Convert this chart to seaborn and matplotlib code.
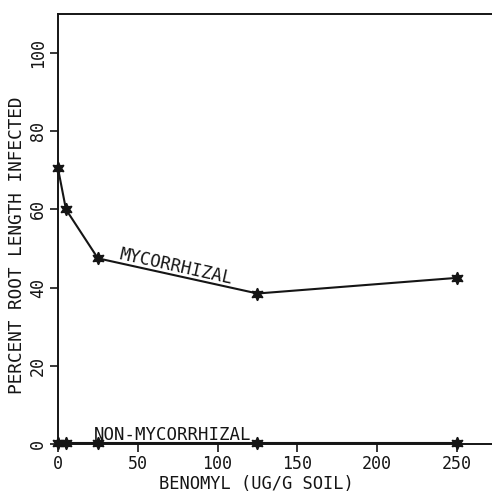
import matplotlib
matplotlib.use("Agg")
import matplotlib.pyplot as plt
import seaborn as sns
import pandas as pd

# ---- data ----
benomyl = [0, 5, 25, 125, 250]
mycorrhizal = [70.5, 60.0, 47.5, 38.5, 42.5]
non_mycorrhizal = [0.3, 0.3, 0.3, 0.3, 0.3]
x_ticks = [0, 50, 100, 150, 200, 250]
y_ticks = [0, 20, 40, 60, 80, 100]

df = pd.DataFrame({
    "benomyl": benomyl * 2,
    "pct": mycorrhizal + non_mycorrhizal,
    "group": ["MYCORRHIZAL"] * len(benomyl) + ["NON-MYCORRHIZAL"] * len(benomyl),
})

sns.set_theme(style="white")
plt.rcParams["font.family"] = ["DejaVu Sans Mono", "DejaVu Sans"]

INK = "#151515"
fig = plt.figure(figsize=(4.92, 4.93), dpi=100)
ax = fig.add_axes([58 / 492, 1 - 444 / 493, 1 - 58 / 492, (444 - 14) / 493])

star = (6, 1, 0)
sns.lineplot(data=df, x="benomyl", y="pct", hue="group",
             palette={"MYCORRHIZAL": INK, "NON-MYCORRHIZAL": INK},
             marker=star, markersize=9, markeredgewidth=1.0,
             markeredgecolor=INK, linewidth=1.5, legend=False, ax=ax,
             clip_on=False, zorder=3)

ax.set_xlim(0, 272)
ax.set_ylim(0, 110)
ax.set_xticks(x_ticks)
ax.set_yticks(y_ticks)
ax.set_xticklabels([str(t) for t in x_ticks], fontsize=12)
ax.set_yticklabels([str(t) for t in y_ticks], fontsize=12, rotation=90, va="center")

for s in ["left", "bottom", "top"]:
    ax.spines[s].set_color(INK)
    ax.spines[s].set_linewidth(1.4)
ax.spines["right"].set_visible(False)

ax.tick_params(axis="both", direction="out", length=6, width=1.2, color=INK,
               labelcolor=INK, left=True, bottom=True)
ax.tick_params(axis="x", pad=2)
ax.tick_params(axis="y", pad=2)

ax.set_xlabel("BENOMYL (UG/G SOIL)", fontsize=12.3, color=INK)
ax.xaxis.set_label_coords(0.458, -0.072)
ax.set_ylabel("PERCENT ROOT LENGTH INFECTED", fontsize=12.8, color=INK)
ax.yaxis.set_label_coords(-0.074, 0.462)

ax.text(38, 47.4, "MYCORRHIZAL", fontsize=12.5, color=INK, rotation=-12.5,
        rotation_mode="anchor", ha="left", va="baseline")
ax.text(22.5, 1.0, "NON-MYCORRHIZAL", fontsize=12.5, color=INK,
        ha="left", va="baseline")

fig.savefig("out.png", dpi=100, facecolor="white")
